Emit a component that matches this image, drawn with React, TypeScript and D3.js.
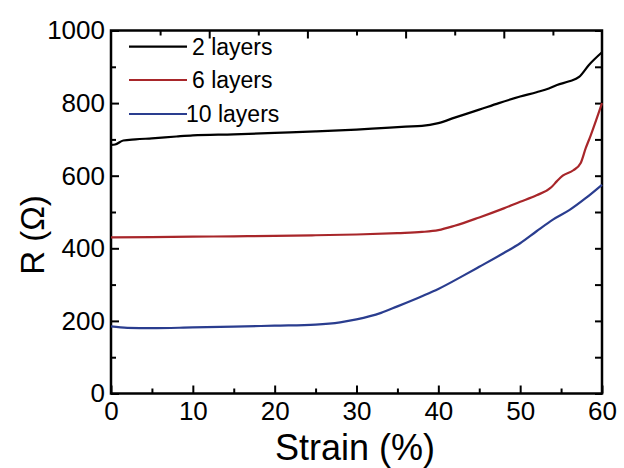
import React, { useEffect, useRef } from 'react'
import * as d3 from 'd3'

// strain (%) -> resistance (ohm)
const strain2 = [0, 0.5, 1.5, 3, 5, 8, 10, 15, 20, 25, 30, 33, 36, 38, 40, 42, 45, 47.4, 50, 52, 53.5, 54.5, 56, 57.2, 58.4, 60]
const r2 = [685, 686, 697, 700, 703, 708, 711, 714, 718, 722, 727, 731, 735, 737, 745, 760, 782, 800, 818, 830, 840, 850, 860, 872, 905, 940]

const strain6 = [0, 5, 10, 15, 20, 25, 30, 35, 38, 40, 42, 45, 48, 50, 52, 53.8, 54.5, 55.2, 56.5, 57.4, 58, 58.6, 60]
const r6 = [430, 431, 432, 433, 434, 436, 438, 442, 445, 450, 462, 485, 510, 528, 546, 568, 585, 600, 615, 635, 675, 710, 800]

const strain10 = [0, 2, 5, 10, 15, 20, 25, 28, 30, 33, 35, 38, 40, 43, 45, 48, 50, 52, 54, 56, 58, 60]
const r10 = [185, 181, 180, 182, 184, 187, 190, 196, 204, 222, 240, 268, 288, 324, 349, 387, 414, 447, 479, 505, 538, 575]

const seriesNames = ['2 layers', '6 layers', '10 layers']
const seriesColors = ['#000000', '#a8262a', '#2a3d8f']

const xMajor = [0, 10, 20, 30, 40, 50, 60]
const xMinor = [5, 15, 25, 35, 45, 55]
const yMajor = [0, 200, 400, 600, 800, 1000]
const yMinor = [100, 300, 500, 700, 900]
const topMajor = [12, 24, 36, 48]
const topMinor = [6, 18, 30, 42, 54]

const FONT = '"Liberation Sans", Arial, sans-serif'

export default function App() {
  const ref = useRef<SVGSVGElement>(null)

  useEffect(() => {
    const svg = d3.select(ref.current)
    svg.selectAll('*').remove()

    const x = d3.scaleLinear().domain([0, 60]).range([111, 602])
    const y = d3.scaleLinear().domain([0, 1000]).range([393.5, 30.5])
    const [x0, x1] = x.range()
    const [y0, y1] = y.range()

    const g = svg.append('g')

    const addAxis = (axis: any, tx: number, ty: number, labels: boolean) => {
      const a = g.append('g')
        .attr('transform', `translate(${tx},${ty})`)
        .call(axis)
      a.select('.domain').remove()
      a.selectAll('line').attr('stroke', '#000').attr('stroke-width', 2)
      if (labels) {
        a.selectAll('text')
          .attr('font-family', FONT)
          .attr('font-size', 26)
          .attr('fill', '#000')
      } else {
        a.selectAll('text').remove()
      }
    }

    // bottom
    addAxis(d3.axisBottom(x).tickValues(xMajor).tickSize(-8).tickPadding(8).tickFormat(d3.format('d')), 0, y0, true)
    addAxis(d3.axisBottom(x).tickValues(xMinor).tickSize(-5), 0, y0, false)
    // top
    addAxis(d3.axisTop(x).tickValues(topMajor).tickSize(-8), 0, y1, false)
    addAxis(d3.axisTop(x).tickValues(topMinor).tickSize(-5), 0, y1, false)
    // left
    addAxis(d3.axisLeft(y).tickValues(yMajor).tickSize(-8).tickPadding(6).tickFormat(d3.format('d')), x0, 0, true)
    addAxis(d3.axisLeft(y).tickValues(yMinor).tickSize(-5), x0, 0, false)
    // right
    addAxis(d3.axisRight(y).tickValues(yMajor).tickSize(-7), x1, 0, false)
    addAxis(d3.axisRight(y).tickValues(yMinor).tickSize(-7), x1, 0, false)

    // frame
    g.append('rect')
      .attr('x', x0)
      .attr('y', y1)
      .attr('width', x1 - x0)
      .attr('height', y0 - y1)
      .attr('fill', 'none')
      .attr('stroke', '#000')
      .attr('stroke-width', 2.5)

    const line = d3.line<[number, number]>()
      .x(d => x(d[0]))
      .y(d => y(d[1]))
      .curve(d3.curveMonotoneX)

    const data = [
      d3.zip(strain2, r2),
      d3.zip(strain6, r6),
      d3.zip(strain10, r10),
    ] as [number, number][][]

    data.forEach((d, i) => {
      g.append('path')
        .attr('d', line(d))
        .attr('fill', 'none')
        .attr('stroke', seriesColors[i])
        .attr('stroke-width', 2.2)
    })

    // legend
    const legendY = [46.7, 80, 114]
    const legendTextX = [192, 192, 186]
    seriesNames.forEach((name, i) => {
      g.append('line')
        .attr('x1', 129)
        .attr('x2', 187)
        .attr('y1', legendY[i])
        .attr('y2', legendY[i])
        .attr('stroke', seriesColors[i])
        .attr('stroke-width', 2.2)
      g.append('text')
        .attr('x', legendTextX[i])
        .attr('y', legendY[i] + 8)
        .attr('font-family', FONT)
        .attr('font-size', 23)
        .attr('fill', '#000')
        .text(name)
    })

    // axis titles
    g.append('text')
      .attr('x', 355)
      .attr('y', 460)
      .attr('text-anchor', 'middle')
      .attr('font-family', FONT)
      .attr('font-size', 36)
      .attr('fill', '#000')
      .text('Strain (%)')

    g.append('text')
      .attr('transform', 'translate(44,235) rotate(-90)')
      .attr('text-anchor', 'middle')
      .attr('font-family', FONT)
      .attr('font-size', 33)
      .attr('fill', '#000')
      .text('R (Ω)')
  }, [])

  return (
    <svg
      ref={ref}
      width={624}
      height={468}
      style={{ position: 'absolute', left: 0, top: 0, background: '#fff' }}
    />
  )
}
